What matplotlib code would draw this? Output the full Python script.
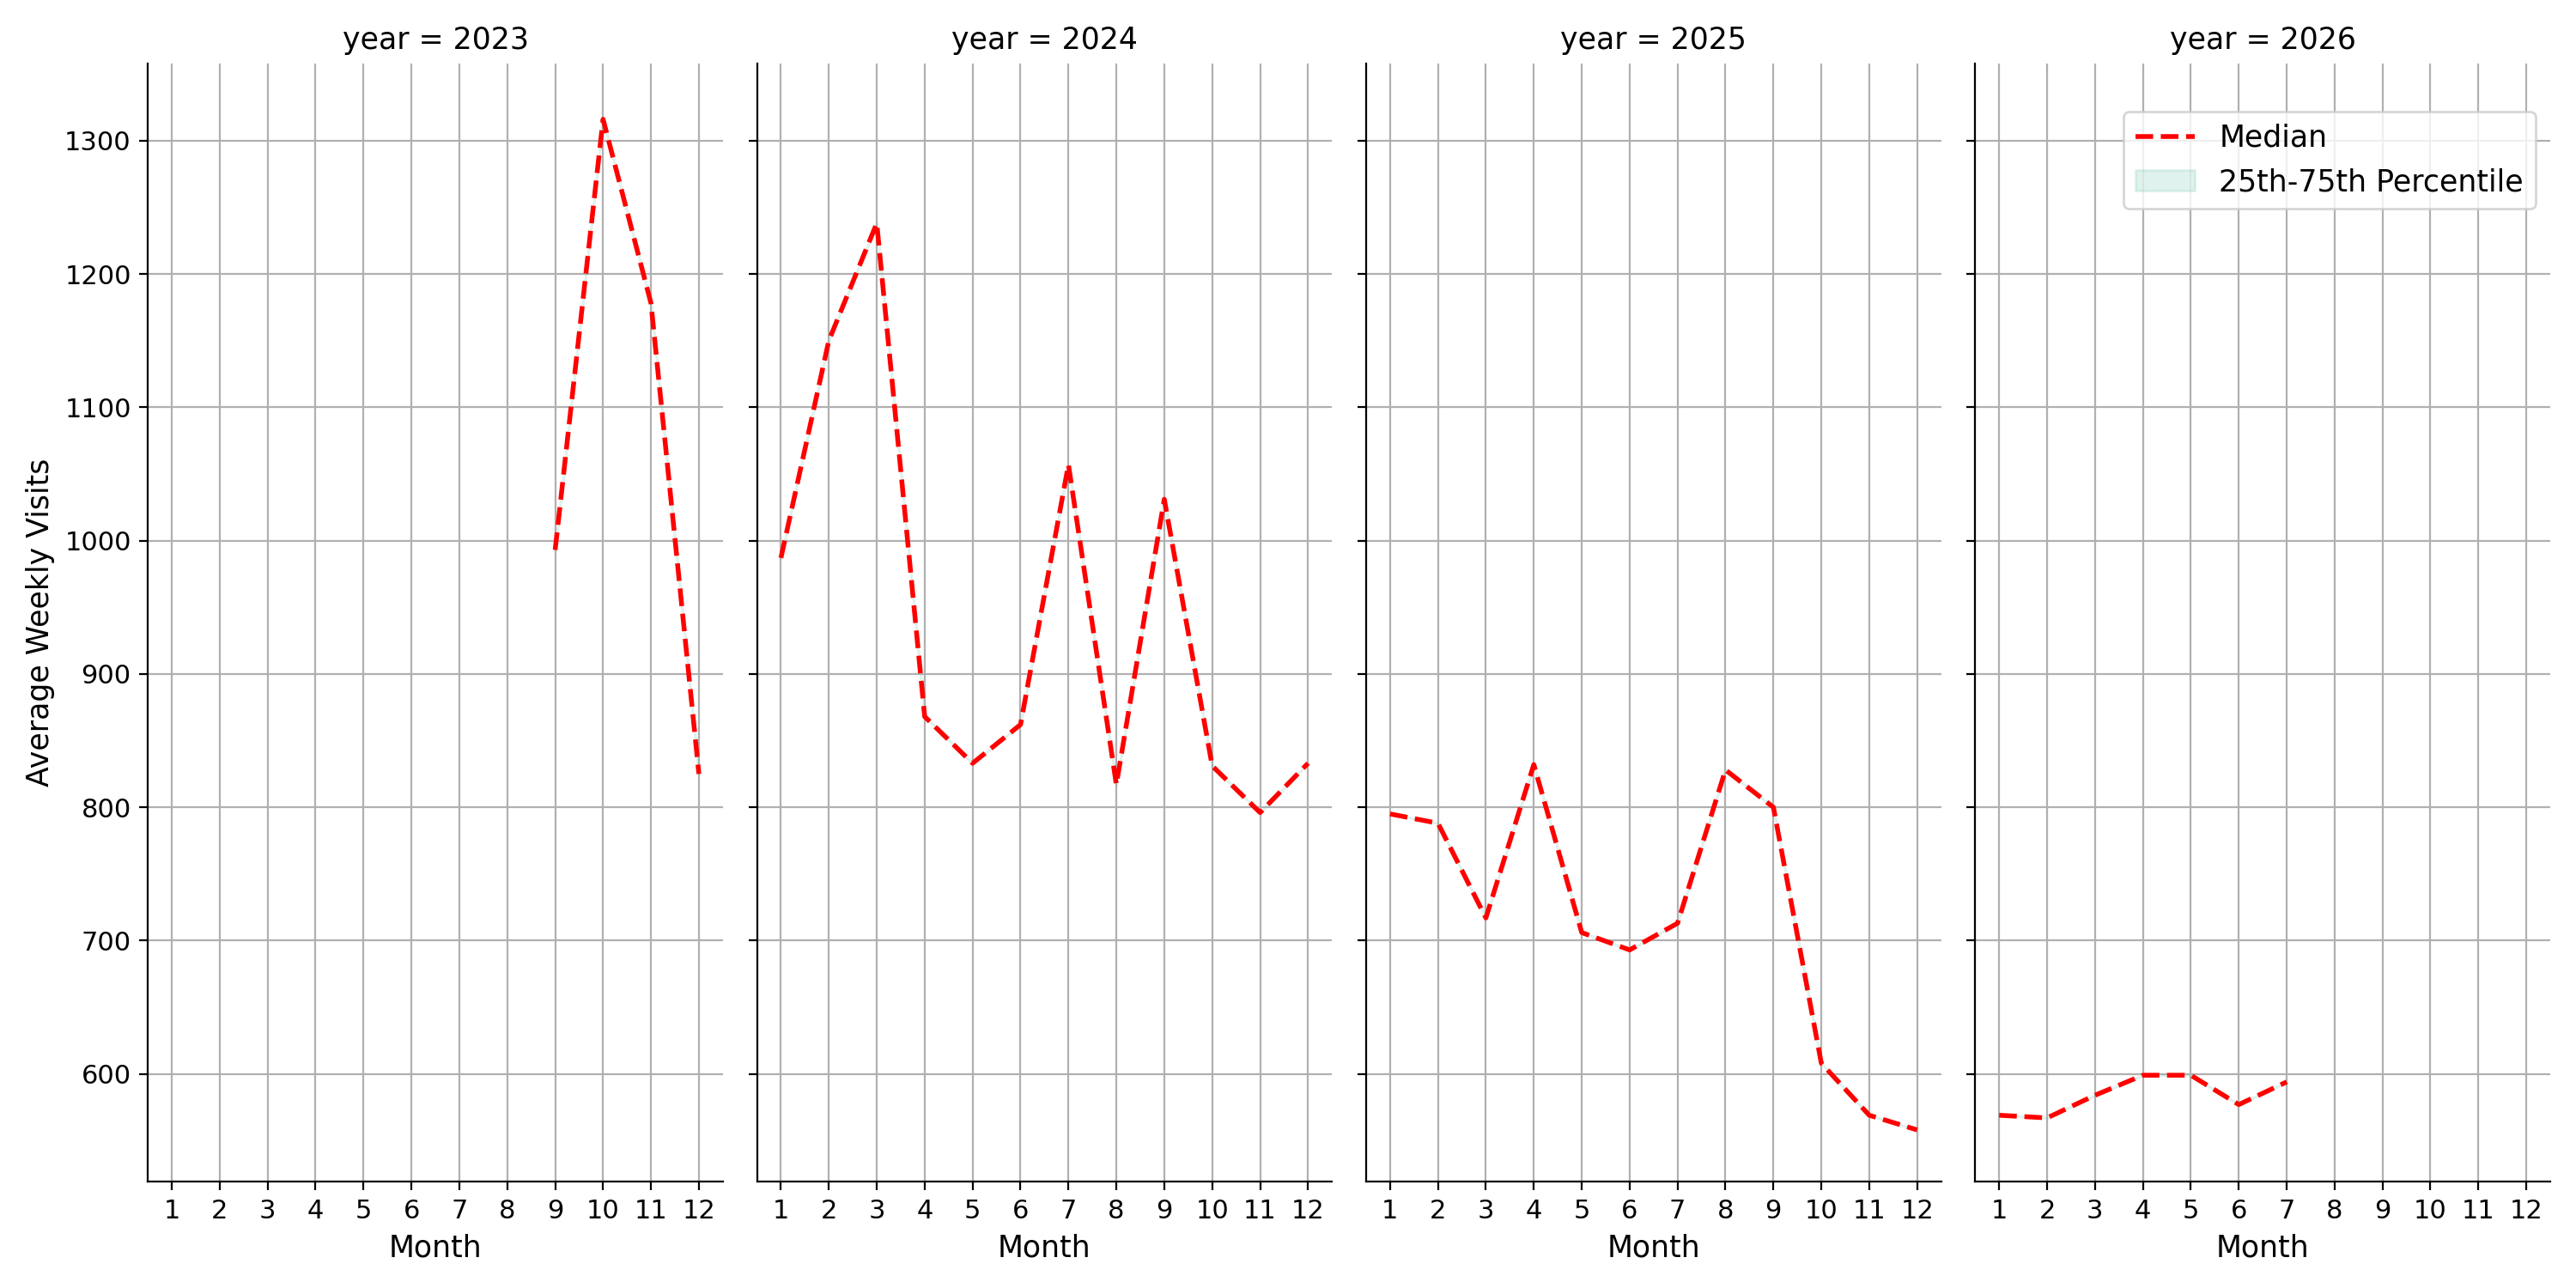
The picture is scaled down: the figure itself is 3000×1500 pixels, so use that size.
import numpy as np
import matplotlib.pyplot as plt

years = [2023, 2024, 2025, 2026]
months = {
    2023: [9, 10, 11, 12],
    2024: list(range(1, 13)),
    2025: list(range(1, 13)),
    2026: list(range(1, 8)),
}
median = {
    2023: [993, 1316, 1178, 825],
    2024: [987, 1150, 1238, 868, 833, 862, 1057, 817, 1031, 831, 796, 833],
    2025: [795, 788, 717, 832, 706, 693, 713, 828, 800, 608, 569, 558],
    2026: [569, 567, 584, 599, 599, 577, 594],
}

fig, axes = plt.subplots(1, 4, figsize=(15, 7.5), dpi=200, sharey=True)
for ax, yr in zip(axes, years):
    x = months[yr]
    y = np.array(median[yr])
    ax.plot(x, y, 'r--', linewidth=2, label='Median')
    ax.fill_between(x, y, y, color='#66c2a5', alpha=0.2, label='25th-75th Percentile')
    ax.set_title(f'year = {yr}', fontsize=12.5)
    ax.set_xticks(range(1, 13))
    ax.set_xlim(0.5, 12.5)
    ax.set_xlabel('Month', fontsize=12.5)
    ax.grid(True, color='#b0b0b0', linewidth=0.8)
    ax.set_axisbelow(True)
    ax.spines['top'].set_visible(False)
    ax.spines['right'].set_visible(False)
    ax.tick_params(labelsize=11)
axes[0].set_ylim(519, 1358)
axes[0].set_ylabel('Average Weekly Visits', fontsize=12.5)
axes[-1].legend(loc='upper right', bbox_to_anchor=(1.0, 0.97), fontsize=12.5)
fig.tight_layout()
fig.savefig('out.png')
